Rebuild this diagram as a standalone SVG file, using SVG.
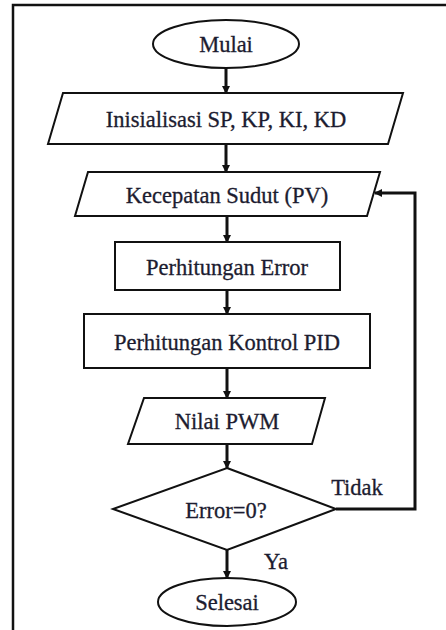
<svg xmlns="http://www.w3.org/2000/svg" width="446" height="630" viewBox="0 0 446 630">
<style>
.s{fill:#fff;stroke:#111;stroke-width:2}
.t{font-family:'Liberation Serif','DejaVu Serif',serif;font-size:22.5px;fill:#1c1c30;stroke:#1c1c30;stroke-width:0.3;text-anchor:middle;dominant-baseline:central}
.c{fill:none;stroke:#111;stroke-width:3}
</style>
<defs>
<marker id="ah" markerWidth="8" markerHeight="8" refX="7" refY="4" orient="auto" markerUnits="userSpaceOnUse">
<path d="M0,0 L8,4 L0,8 Z" fill="#111"/>
</marker>
</defs>
<rect width="446" height="630" fill="#fff"/>
<path d="M13,630 V5 H446" fill="none" stroke="#111" stroke-width="2.5"/>
<g id="connectors">
<line class="c" x1="226" y1="68" x2="226" y2="93" marker-end="url(#ah)"/>
<line class="c" x1="226" y1="144" x2="226" y2="172" marker-end="url(#ah)"/>
<line class="c" x1="227" y1="216" x2="227" y2="242" marker-end="url(#ah)"/>
<line class="c" x1="227" y1="290" x2="227" y2="314" marker-end="url(#ah)"/>
<line class="c" x1="227" y1="368" x2="227" y2="398" marker-end="url(#ah)"/>
<line class="c" x1="227" y1="444" x2="227" y2="468" marker-end="url(#ah)"/>
<line class="c" x1="227" y1="550" x2="227" y2="578" marker-end="url(#ah)"/>
<polyline class="c" points="336,509 415,509 415,193 375,193" marker-end="url(#ah)"/>
<text class="t" x="357" y="487">Tidak</text>
<text class="t" x="276" y="561">Ya</text>
</g>
<g id="mulai">
<ellipse class="s" cx="226" cy="44" rx="73" ry="24"/>
<text class="t" x="226" y="44">Mulai</text>
</g>
<g id="inisialisasi">
<polygon class="s" points="63,93 403,93 388,144 48,144"/>
<text class="t" x="226" y="119">Inisialisasi SP, KP, KI, KD</text>
</g>
<g id="kecepatan">
<polygon class="s" points="88,172 380,172 367,216 75,216"/>
<text class="t" x="227" y="195">Kecepatan Sudut (PV)</text>
</g>
<g id="error">
<rect class="s" x="115" y="242" width="225" height="48"/>
<text class="t" x="227" y="267">Perhitungan Error</text>
</g>
<g id="pid">
<rect class="s" x="84" y="314" width="286" height="54"/>
<text class="t" x="227" y="342">Perhitungan Kontrol PID</text>
</g>
<g id="pwm">
<polygon class="s" points="144,398 325,398 312,444 128,444"/>
<text class="t" x="227" y="421">Nilai PWM</text>
</g>
<g id="decision">
<polygon class="s" points="227,468 336,509 227,550 113,509"/>
<text class="t" x="226" y="510">Error=0?</text>
</g>
<g id="selesai">
<ellipse class="s" cx="227" cy="602" rx="69" ry="24"/>
<text class="t" x="227" y="602">Selesai</text>
</g>
</svg>
